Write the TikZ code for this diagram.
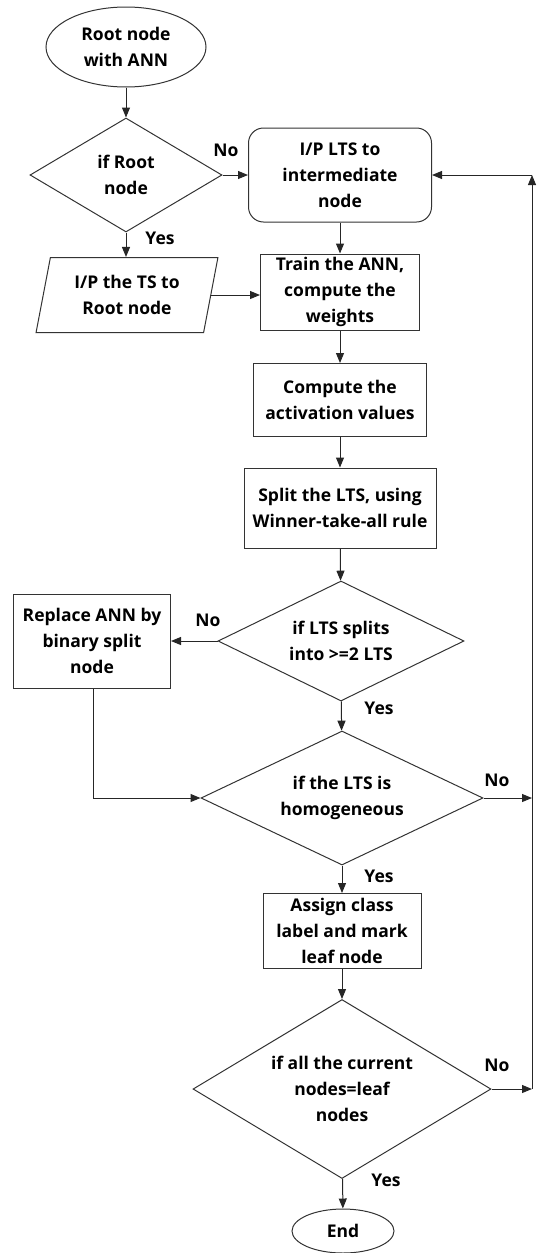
\documentclass[tikz,border=0pt]{standalone}
\usepackage{fontspec}
\setmainfont{Open Sans}
\usetikzlibrary{shapes.geometric,arrows.meta}
\begin{document}
\begin{tikzpicture}[x=1pt,y=-1pt,
  font=\fontsize{17.5}{26}\selectfont\bfseries,
  every node/.style={align=center, text=black},
  shp/.style={draw=black!80, line width=1pt, inner sep=0pt},
  proc/.style={shp, rectangle},
  dec/.style={shp, diamond, shape aspect=2},
  term/.style={shp, ellipse},
  arr/.style={draw=black!85, line width=1pt, -{Triangle[length=10pt,width=8pt]}},
  lnk/.style={draw=black!85, line width=1pt},
  lbl/.style={inner sep=0pt}
]
\useasboundingbox (0,0) rectangle (536,1253);

% nodes
\node[term, minimum width=160, minimum height=80] (root) at (126,47) {Root node\\with ANN};
\node[dec, minimum width=192, minimum height=114] (d1) at (126,175) {if Root\\node};
\node[proc, rounded corners=15pt, minimum width=183, minimum height=94] (lts) at (340,175) {I/P LTS to\\intermediate\\node};
\node[shp, trapezium, trapezium left angle=76, trapezium right angle=104,
      trapezium stretches=true, minimum width=182, minimum height=75] (ts) at (127,295) {I/P the TS to\\Root node};
\node[proc, minimum width=159, minimum height=76] (train) at (340,292) {Train the ANN,\\compute the\\weights};
\node[proc, minimum width=173, minimum height=73] (act) at (340,400) {Compute the\\activation values};
\node[proc, minimum width=192, minimum height=80] (split) at (340,508) {Split the LTS, using\\Winner-take-all rule};
\node[dec, minimum width=246, minimum height=120] (d2) at (341,641) {if LTS splits\\into >=2 LTS};
\node[proc, minimum width=157, minimum height=94] (rep) at (92,641) {Replace ANN by\\binary split\\node};
\node[dec, minimum width=282, minimum height=134] (d3) at (342,798) {if the LTS is\\homogeneous};
\node[proc, minimum width=158, minimum height=75] (leaf) at (342,931) {Assign class\\label and mark\\leaf node};
\node[dec, minimum width=298, minimum height=179] (d4) at (342,1089) {if all the current\\nodes=leaf\\nodes};
\node[term, minimum width=102, minimum height=44] (end) at (343,1231) {End};

% return path on the right
\coordinate (r3) at (532,798);
\coordinate (r4) at (532,1089);
\coordinate (rt) at (532,175);
\coordinate (bend) at (93,798);

% connectors
\draw[arr] (root) -- (d1);
\draw[arr] (d1.east) -- (lts.west);
\draw[arr] (d1.south) -- (ts.north -| d1.south);
\draw[arr] (lts) -- (train);
\draw[arr] (ts.east) -- (ts.east -| train.west);
\draw[arr] (train) -- (act);
\draw[arr] (act) -- (split);
\draw[arr] (split) -- (d2);
\draw[arr] (d2.west) -- (rep.east);
\draw[arr] (d2) -- (d3);
\draw[lnk] (rep.south -| bend) -- (bend);
\draw[arr] (bend) -- (d3.west);
\draw[arr] (d3.east) -- (r3);
\draw[arr] (d3) -- (leaf);
\draw[arr] (leaf) -- (d4);
\draw[arr] (d4.east) -- (r4);
\draw[arr] (d4) -- (end);
\draw[arr] (r4) -- (rt);
\draw[arr] (rt) -- (lts.east);

% branch labels
\node[lbl] (n1) at (226,150) {No};
\node[lbl] (y1) at (160,238) {Yes};
\node[lbl] (n2) at (208,620) {No};
\node[lbl] (y2) at (379,708) {Yes};
\node[lbl] (n3) at (497,780) {No};
\node[lbl] (y3) at (379,876) {Yes};
\node[lbl] (n4) at (497,1065) {No};
\node[lbl] (y4) at (386,1180) {Yes};
\end{tikzpicture}
\end{document}
